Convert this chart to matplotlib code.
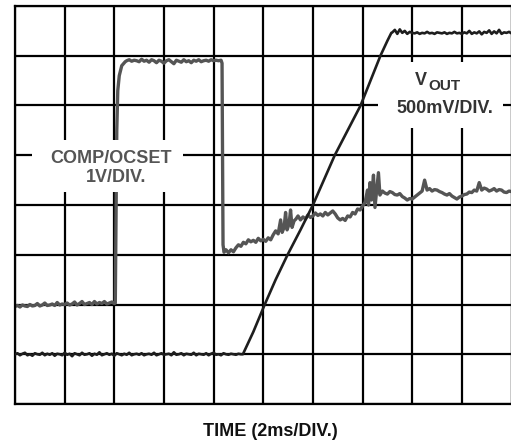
import matplotlib
matplotlib.use("Agg")
import matplotlib.pyplot as plt
from matplotlib.patches import Rectangle

plt.rcParams['font.family'] = ['Liberation Sans', 'DejaVu Sans']

# ---- data (scope divisions: x = 2 ms/div, y = divisions from bottom) ----
# sample spacing of the flat, noisy stretches (0.05 div)
STEP = 0.05

# VOUT flat start: t = 0.00 .. 4.55
vout_base_start = 0.0
vout_base_v = [1.00, 1.02, 0.98, 1.01, 1.03, 0.98, 1.00, 0.97, 1.02, 1.00, 0.99, 1.03, 0.98,
               1.01, 0.99, 1.02, 0.97, 1.01, 1.00, 0.98, 1.03, 0.99, 1.01, 0.96, 1.02, 1.00,
               0.98, 1.03, 0.99, 1.00, 1.02, 0.97, 1.01, 0.99, 1.04, 0.98, 1.00, 1.02, 0.99,
               1.01, 0.97, 1.02, 1.00, 0.98, 1.01, 0.99, 1.03, 0.98, 1.00, 1.01, 0.99, 1.02,
               0.98, 1.00, 1.01, 0.99, 1.03, 0.98, 1.00, 1.02, 0.99, 1.00, 1.01, 0.98, 1.04,
               0.99, 1.00, 1.02, 0.98, 1.01, 1.00, 0.99, 1.03, 0.98, 1.01, 1.00, 0.99, 1.02,
               0.98, 1.01, 1.03, 0.99, 1.00, 0.98, 1.02, 1.00, 0.99, 1.01, 1.00, 0.99, 1.01,
               1.00]
# VOUT soft-start ramp
vout_ramp_t = [4.59, 4.8, 5.03, 5.25, 5.49, 5.75, 6.0, 6.22, 6.44, 6.7, 6.96, 7.16, 7.36, 7.5, 7.58]
vout_ramp_v = [1.0, 1.45, 2.0, 2.5, 3.0, 3.5, 4.0, 4.5, 5.0, 5.5, 6.0, 6.5, 7.0, 7.3, 7.46]
# VOUT settled: t = 7.60 .. 10.00
vout_top_start = 7.60
vout_top_v = [7.47, 7.52, 7.44, 7.53, 7.46, 7.50, 7.44, 7.48, 7.46, 7.45, 7.47, 7.44, 7.46,
              7.45, 7.48, 7.45, 7.46, 7.44, 7.47, 7.46, 7.45, 7.47, 7.44, 7.46, 7.45, 7.48,
              7.45, 7.46, 7.44, 7.47, 7.45, 7.50, 7.44, 7.47, 7.45, 7.49, 7.43, 7.48, 7.46,
              7.51, 7.44, 7.49, 7.45, 7.52, 7.44, 7.47, 7.46, 7.48, 7.45]

# COMP/OCSET low: t = 0.00 .. 2.00
comp_low_start = 0.0
comp_low_v = [1.96, 1.98, 1.95, 1.99, 1.97, 1.96, 2.00, 1.97, 1.98, 2.02, 1.97, 1.99, 2.03,
              1.98, 1.99, 2.01, 1.98, 2.04, 1.99, 2.01, 2.00, 2.03, 1.99, 2.01, 2.05, 1.99,
              2.02, 2.06, 2.00, 2.02, 2.04, 2.00, 2.06, 2.01, 2.04, 2.02, 2.06, 2.01, 2.03,
              2.05, 2.02]
comp_rise_t = [2.02, 2.05, 2.07, 2.1, 2.15, 2.22]
comp_rise_v = [2.03, 5.5, 6.3, 6.6, 6.8, 6.88]
# COMP/OCSET high: t = 2.25 .. 4.15
comp_high_start = 2.25
comp_high_v = [6.90, 6.92, 6.89, 6.91, 6.90, 6.88, 6.93, 6.89, 6.91, 6.87, 6.92, 6.90, 6.86,
               6.91, 6.89, 6.85, 6.90, 6.92, 6.88, 6.84, 6.91, 6.89, 6.87, 6.92, 6.88, 6.90,
               6.86, 6.91, 6.89, 6.92, 6.88, 6.90, 6.91, 6.89, 6.92, 6.90, 6.91, 6.90, 6.91]
comp_tail_t = [4.17, 4.19, 4.21, 4.25, 4.3, 4.35, 4.4, 4.45, 4.5, 4.55, 4.6, 4.65, 4.7, 4.75,
               4.8, 4.85, 4.9, 4.95, 5.0, 5.05, 5.1, 5.15, 5.2, 5.25, 5.3, 5.35,
               5.38, 5.42, 5.45, 5.48, 5.52, 5.55, 5.58, 5.62, 5.66, 5.7, 5.75, 5.8, 5.85, 5.9,
               5.95, 6.0, 6.05, 6.1, 6.15, 6.2, 6.25, 6.3, 6.35, 6.4, 6.45, 6.5, 6.55, 6.6,
               6.65, 6.7, 6.75, 6.8, 6.85, 6.9, 6.95, 7.0, 7.05, 7.1, 7.12, 7.15, 7.18,
               7.22, 7.25, 7.28, 7.32, 7.35, 7.4, 7.45, 7.5, 7.55, 7.6, 7.65, 7.7, 7.75, 7.8,
               7.85, 7.9, 7.95, 8.0, 8.05, 8.1, 8.15, 8.2, 8.25, 8.3, 8.35, 8.4, 8.45, 8.5,
               8.55, 8.6, 8.65, 8.7, 8.75, 8.8, 8.85, 8.9, 8.95, 9.0, 9.05, 9.1, 9.15, 9.2,
               9.25, 9.3, 9.35, 9.4, 9.45, 9.5, 9.55, 9.6, 9.65, 9.7, 9.75, 9.8, 9.85, 9.9,
               9.95, 10.0]
comp_tail_v = [6.85, 3.2, 3.05, 3.10, 3.04, 3.10, 3.06, 3.14, 3.20, 3.17, 3.25, 3.22, 3.30,
               3.26, 3.29, 3.25, 3.33, 3.28, 3.31, 3.27, 3.34, 3.30, 3.40, 3.48, 3.42, 3.70,
               3.45, 3.55, 3.85, 3.50, 3.62, 3.90, 3.55, 3.68, 3.72, 3.78, 3.70, 3.76, 3.72,
               3.80, 3.75, 3.78, 3.84, 3.79, 3.82, 3.78, 3.85, 3.80, 3.84, 3.88, 3.82, 3.74,
               3.70, 3.73, 3.69, 3.78, 3.76, 3.85, 3.82, 3.92, 3.90, 3.98, 4.05, 4.30, 4.00,
               4.45, 4.10, 4.60, 3.95, 4.25, 4.65, 4.20, 4.28, 4.24, 4.22, 4.27, 4.25, 4.21,
               4.20, 4.23, 4.17, 4.14, 4.10, 4.13, 4.12, 4.16, 4.20, 4.24, 4.28, 4.50, 4.30,
               4.33, 4.28, 4.31, 4.30, 4.27, 4.25, 4.22, 4.20, 4.23, 4.18, 4.15, 4.12, 4.16,
               4.18, 4.21, 4.22, 4.26, 4.25, 4.30, 4.28, 4.45, 4.30, 4.34, 4.32, 4.28, 4.30,
               4.33, 4.28, 4.31, 4.30, 4.26, 4.25, 4.28, 4.27]


def seq(start, values):
    return [round(start + i * STEP, 3) for i in range(len(values))]


vout_t = seq(vout_base_start, vout_base_v) + vout_ramp_t + seq(vout_top_start, vout_top_v)
vout_v = vout_base_v + vout_ramp_v + vout_top_v
comp_t = seq(comp_low_start, comp_low_v) + comp_rise_t + seq(comp_high_start, comp_high_v) + comp_tail_t
comp_v = comp_low_v + comp_rise_v + comp_high_v + comp_tail_v

x_divs = list(range(0, 11))
y_divs = list(range(0, 9))

W, H = 511, 440
fig = plt.figure(figsize=(W / 100, H / 100), dpi=100)
ax = fig.add_axes([15 / W, 36 / H, 496.5 / W, 398 / H])
ax.set_xlim(0, 10)
ax.set_ylim(0, 8)
ax.set_xticks([])
ax.set_yticks([])
for s in ax.spines.values():
    s.set_linewidth(1.6)
    s.set_color('black')

for x in x_divs:
    ax.axvline(x, color='black', lw=1.6, zorder=1)
for y in y_divs:
    ax.axhline(y, color='black', lw=1.6, zorder=1)

ax.plot(comp_t, comp_v, color='#555555', lw=2.4, zorder=2, solid_joinstyle='round')

# white label backgrounds
ax.add_patch(Rectangle((0.34, 4.26), 3.04, 1.05, facecolor='white', edgecolor='none', zorder=3))
ax.add_patch(Rectangle((7.32, 5.55), 2.50, 1.32, facecolor='white', edgecolor='none', zorder=3))

ax.plot(vout_t, vout_v, color='#1e1e1e', lw=1.9, zorder=4, solid_joinstyle='round')

ax.text(1.93, 4.84, 'COMP/OCSET', ha='center', va='baseline', fontsize=13,
        fontweight='bold', color='#555555', zorder=5)
ax.text(2.04, 4.46, '1V/DIV.', ha='center', va='baseline', fontsize=13,
        fontweight='bold', color='#555555', zorder=5)
ax.text(8.18, 6.41, 'V', ha='center', va='baseline', fontsize=13,
        fontweight='bold', color='#333333', zorder=5)
ax.text(8.64, 6.31, 'OUT', ha='center', va='baseline', fontsize=11,
        fontweight='bold', color='#333333', zorder=5)
ax.text(8.66, 5.85, '500mV/DIV.', ha='center', va='baseline', fontsize=13,
        fontweight='bold', color='#333333', zorder=5)

fig.text(270 / W, 1 - 436 / H, 'TIME (2ms/DIV.)', ha='center', va='baseline',
         fontsize=13, fontweight='bold', color='#111111')

fig.savefig('out.png', dpi=100)
